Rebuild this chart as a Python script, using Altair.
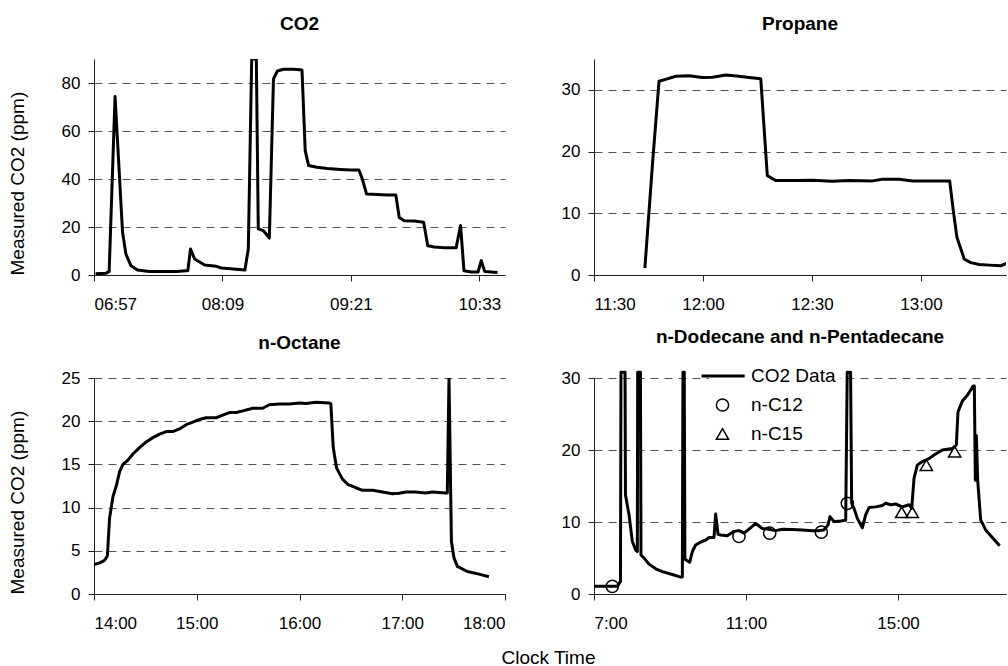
import altair as alt
import pandas as pd

# ---------------- data (clock time in minutes after midnight, CO2 in ppm) ----------------
co2_time = [418.5, 424.2, 426.1, 429.4, 433.6, 435.5, 438.3, 442.0, 448.6, 458.0,
            463.7, 469.3, 470.2, 471.7, 474.0, 479.6, 486.2, 489.0, 495.6, 502.2,
            504.1, 506.0, 508.6, 509.7, 512.5, 515.9, 518.2, 520.4, 523.8, 529.5,
            534.2, 536.0, 537.9, 542.6, 548.3, 555.8, 561.4, 566.1, 568.0, 570.4,
            576.5, 582.1, 586.8, 588.7, 591.5, 597.2, 602.4, 604.7, 608.4, 614.1,
            620.6, 623.1, 625.0, 629.1, 632.9, 634.7, 636.6, 643.8]
co2_ppm = [0.5, 0.7, 1.5, 74.4, 17.8, 8.7, 3.9, 2.1, 1.5, 1.5,
           1.5, 1.8, 1.8, 10.8, 6.7, 4.2, 3.6, 2.9, 2.5, 2.1,
           10.8, 90.0, 90.0, 19.2, 18.5, 15.4, 81.7, 85.0, 85.7, 85.7,
           85.4, 51.8, 45.6, 44.9, 44.4, 44.0, 43.75, 43.75, 40.0, 33.75,
           33.5, 33.3, 33.3, 24.0, 22.6, 22.5, 22.0, 12.2, 11.7, 11.4,
           11.4, 20.6, 1.8, 1.25, 1.25, 6.0, 1.5, 1.0]

propane_time = [704.0, 706.1, 707.9, 709.7, 712.5, 716.2, 719.8, 722.6, 726.3, 729.9,
                732.7, 735.9, 737.7, 740.0, 745.5, 750.1, 755.6, 760.2, 766.7, 769.4,
                774.0, 777.7, 782.3, 787.9, 788.9, 789.9, 791.9, 793.7, 796.0, 798.8,
                802.0, 803.7]
propane_ppm = [1.1, 18.0, 31.4, 31.7, 32.2, 32.3, 32.0, 32.05, 32.4, 32.2,
               32.0, 31.8, 16.1, 15.3, 15.3, 15.35, 15.2, 15.3, 15.25, 15.5,
               15.5, 15.25, 15.25, 15.25, 10.4, 6.1, 2.6, 2.0, 1.7, 1.6,
               1.5, 1.9]

octane_time = [840.0, 843.3, 846.2, 847.8, 849.1, 851.1, 853.0, 855.0, 856.9, 859.8,
               862.7, 866.6, 870.5, 874.4, 878.3, 882.2, 886.0, 889.9, 893.8, 897.7,
               901.6, 905.5, 911.3, 915.2, 919.1, 923.0, 926.9, 932.7, 938.5, 942.4,
               948.2, 954.1, 959.9, 963.8, 969.6, 977.4, 978.3, 979.7, 981.6, 985.1,
               988.1, 992.9, 996.8, 1002.6, 1008.5, 1014.3, 1018.2, 1022.1, 1027.9, 1033.7,
               1037.6, 1045.4, 1046.3, 1047.3, 1048.7, 1050.2, 1052.2, 1058.0, 1064.8, 1070.6]
octane_ppm = [3.4, 3.6, 3.9, 4.4, 8.8, 11.3, 12.5, 14.2, 15.0, 15.5,
              16.2, 16.95, 17.6, 18.1, 18.5, 18.8, 18.8, 19.1, 19.6, 19.9,
              20.2, 20.4, 20.4, 20.7, 21.0, 21.0, 21.2, 21.5, 21.5, 21.9,
              22.0, 22.0, 22.1, 22.06, 22.2, 22.1, 22.0, 16.95, 14.6, 13.3,
              12.7, 12.3, 12.0, 12.0, 11.8, 11.6, 11.65, 11.8, 11.8, 11.7,
              11.8, 11.7, 11.7, 25.0, 6.1, 4.2, 3.2, 2.6, 2.3, 2.0]

dodec_time = [420.0, 443.7, 456.8, 461.8, 462.6, 469.0, 469.7, 475.3, 480.5, 485.8,
              488.4, 489.0, 493.3, 494.2, 498.9, 506.8, 517.4, 527.9, 543.7, 556.8,
              559.5, 560.5, 562.5, 563.5, 564.7, 571.0, 575.3, 580.5, 588.4, 596.3,
              601.6, 609.5, 612.1, 615.8, 620.0, 630.5, 641.0, 648.9, 656.8, 664.7,
              675.3, 685.8, 696.3, 706.8, 717.4, 733.2, 748.9, 764.7, 775.3, 783.1,
              789.5, 792.6, 798.9, 809.5, 817.4, 819.8, 825.1, 826.8, 830.5, 835.8,
              843.7, 848.9, 854.2, 864.7, 875.3, 880.5, 888.4, 896.3, 906.8, 917.4,
              921.6, 925.3, 930.5, 938.4, 948.9, 956.8, 970.0, 985.8, 992.1, 994.7,
              1001.6, 1009.5, 1018.9, 1020.5, 1022.1, 1023.7, 1025.8, 1030.5, 1038.4, 1048.9,
              1060.5]
dodec_ppm = [1.06, 1.06, 1.06, 1.75, 30.8, 30.8, 13.75, 11.0, 7.3, 6.1,
             5.9, 30.8, 30.8, 5.4, 5.0, 4.15, 3.5, 3.1, 2.7, 2.35,
             2.35, 30.8, 30.8, 5.0, 4.75, 4.4, 5.9, 6.8, 7.2, 7.5,
             7.85, 7.85, 11.1, 8.3, 8.2, 8.1, 8.7, 8.8, 8.45, 9.0,
             9.8, 9.1, 9.0, 8.8, 9.0, 8.95, 8.9, 8.8, 8.8, 8.9,
             9.6, 10.75, 10.06, 10.15, 10.25, 30.8, 30.8, 12.6, 11.9, 10.5,
             9.2, 11.0, 12.0, 12.1, 12.3, 12.6, 12.4, 12.5, 12.1, 12.4,
             11.9, 16.1, 17.9, 18.4, 18.8, 19.3, 20.0, 20.2, 20.7, 25.3,
             26.8, 27.6, 28.9, 28.9, 15.8, 22.0, 15.8, 10.3, 8.9, 7.85,
             6.7]

c12_time = [448.9, 648.9, 697.4, 778.9, 820.0]
c12_ppm = [1.06, 8.0, 8.45, 8.6, 12.6]
c15_time = [905.8, 922.6, 944.7, 989.5]
c15_ppm = [11.35, 11.35, 17.9, 19.75]

legend_labels = ["CO2 Data", "n-C12", "n-C15"]
panel_titles = ["CO2", "Propane", "n-Octane", "n-Dodecane and n-Pentadecane"]
y_title = "Measured CO2 (ppm)"
x_title = "Clock Time"

# ---------------- styling ----------------
FONT = "Liberation Sans"
LINE_W = 3
# thick horizontal bar used as the "line" legend symbol
LINE_SYMBOL = "M-3.3,-0.12 L3.5,-0.12 L3.5,0.12 L-3.3,0.12 Z"


def hhmm(pad_hour):
    h = "floor(datum.value/60)+''"
    if pad_hour:
        h = "pad(" + h + ",2,'0','left')"
    return h + " + ':' + pad(floor(datum.value%60)+'',2,'0','left')"


def axes(xdom, xticks, ydom, yticks, pad_hour, with_ytitle, with_xtitle=False):
    if with_xtitle:
        xaxis = alt.Axis(values=xticks, labelExpr=hhmm(pad_hour), grid=False,
                         labelPadding=15, title=x_title, titleX=454, titleY=69,
                         titleAlign="center", titleBaseline="alphabetic",
                         titleAnchor="start")
    else:
        xaxis = alt.Axis(values=xticks, labelExpr=hhmm(pad_hour), grid=False,
                         labelPadding=15, title=None)
    x = alt.X("t:Q", scale=alt.Scale(domain=xdom, nice=False, zero=False), axis=xaxis)
    if with_ytitle:
        yaxis = alt.Axis(values=yticks, title=y_title, titleAnchor="start",
                         titlePadding=34, grid=True)
    else:
        yaxis = alt.Axis(values=yticks, title=None, grid=True)
    y = alt.Y("v:Q", scale=alt.Scale(domain=ydom, nice=False, zero=False), axis=yaxis)
    return x, y


def title(text, offset):
    return alt.TitleParams(text, font=FONT, fontSize=19, fontWeight="bold",
                           color="black", anchor="middle", frame="group",
                           offset=offset, baseline="alphabetic")


def line_panel(times, vals, xdom, xticks, ydom, yticks, pad_hour, with_ytitle,
               ttl, toff, w, with_xtitle=False):
    df = pd.DataFrame({"t": times, "v": vals})
    x, y = axes(xdom, xticks, ydom, yticks, pad_hour, with_ytitle, with_xtitle)
    return alt.Chart(df).mark_line(color="black", strokeWidth=LINE_W, clip=True,
                                   strokeJoin="round").encode(
        x=x, y=y, order="t:Q"
    ).properties(width=w, height=216, title=title(ttl, toff))


c1 = line_panel(co2_time, co2_ppm, [417.6, 648.0], [417.6, 489.6, 561.6, 633.6],
                [0, 90], [0, 20, 40, 60, 80], True, True, panel_titles[0], 10, 411)
c2 = line_panel(propane_time, propane_ppm, [690.0, 803.4], [690, 720, 750, 780],
                [0, 35], [0, 10, 20, 30], False, False, panel_titles[1], 10, 412)
c3 = line_panel(octane_time, octane_ppm, [840.0, 1080.0], [840, 900, 960, 1020, 1080],
                [0, 25], [0, 5, 10, 15, 20, 25], False, True, panel_titles[2], 1, 411,
                with_xtitle=True)

# panel 4: line + markers + legend
x4, y4 = axes([420.0, 1070.5], [420, 660, 900], [0, 30], [0, 10, 20, 30], False, False)
df4 = pd.DataFrame({"t": dodec_time, "v": dodec_ppm})
pts = pd.DataFrame({
    "t": c12_time + c15_time,
    "v": c12_ppm + c15_ppm,
    "series": [legend_labels[1]] * len(c12_time) + [legend_labels[2]] * len(c15_time),
})
line4 = alt.Chart(df4).mark_line(color="black", strokeWidth=LINE_W, clip=False,
                                 strokeJoin="round").encode(x=x4, y=y4, order="t:Q")
pts4 = alt.Chart(pts).mark_point(filled=False, size=150, strokeWidth=1.5,
                                 color="black", opacity=1).encode(
    x=x4, y=y4,
    shape=alt.Shape("series:N",
                    scale=alt.Scale(domain=legend_labels,
                                    range=[LINE_SYMBOL, "circle", "triangle-up"]),
                    legend=alt.Legend(title=None, orient="none", legendX=115,
                                      legendY=-15.5, padding=4, fillColor="white",
                                      labelFont=FONT, labelFontSize=19,
                                      labelColor="black", labelOffset=19,
                                      rowPadding=9, symbolSize=150,
                                      symbolStrokeWidth=1.5,
                                      symbolStrokeColor="black",
                                      symbolFillColor="transparent", zindex=2))
)
c4 = alt.layer(line4, pts4).properties(width=412, height=216,
                                       title=title(panel_titles[3], 1))

chart = alt.concat(c1, c2, c3, c4, columns=2, spacing={"row": 103, "column": 89},
                   bounds="flush").resolve_legend(shape="independent").properties(
    padding={"left": 7, "top": 14, "right": 0, "bottom": 0},
    background="white",
).configure_view(stroke="transparent").configure_axis(
    labelFont=FONT, labelFontSize=17, labelColor="black",
    titleFont=FONT, titleFontSize=19, titleFontWeight="normal", titleColor="black",
    domainColor="#222222", domainWidth=1, tickColor="#222222", tickSize=6,
    labelPadding=8, gridColor="#555555", gridDash=[8, 6], gridWidth=1,
)

chart.save("out.html", embed_options={"renderer": "svg", "actions": False})
